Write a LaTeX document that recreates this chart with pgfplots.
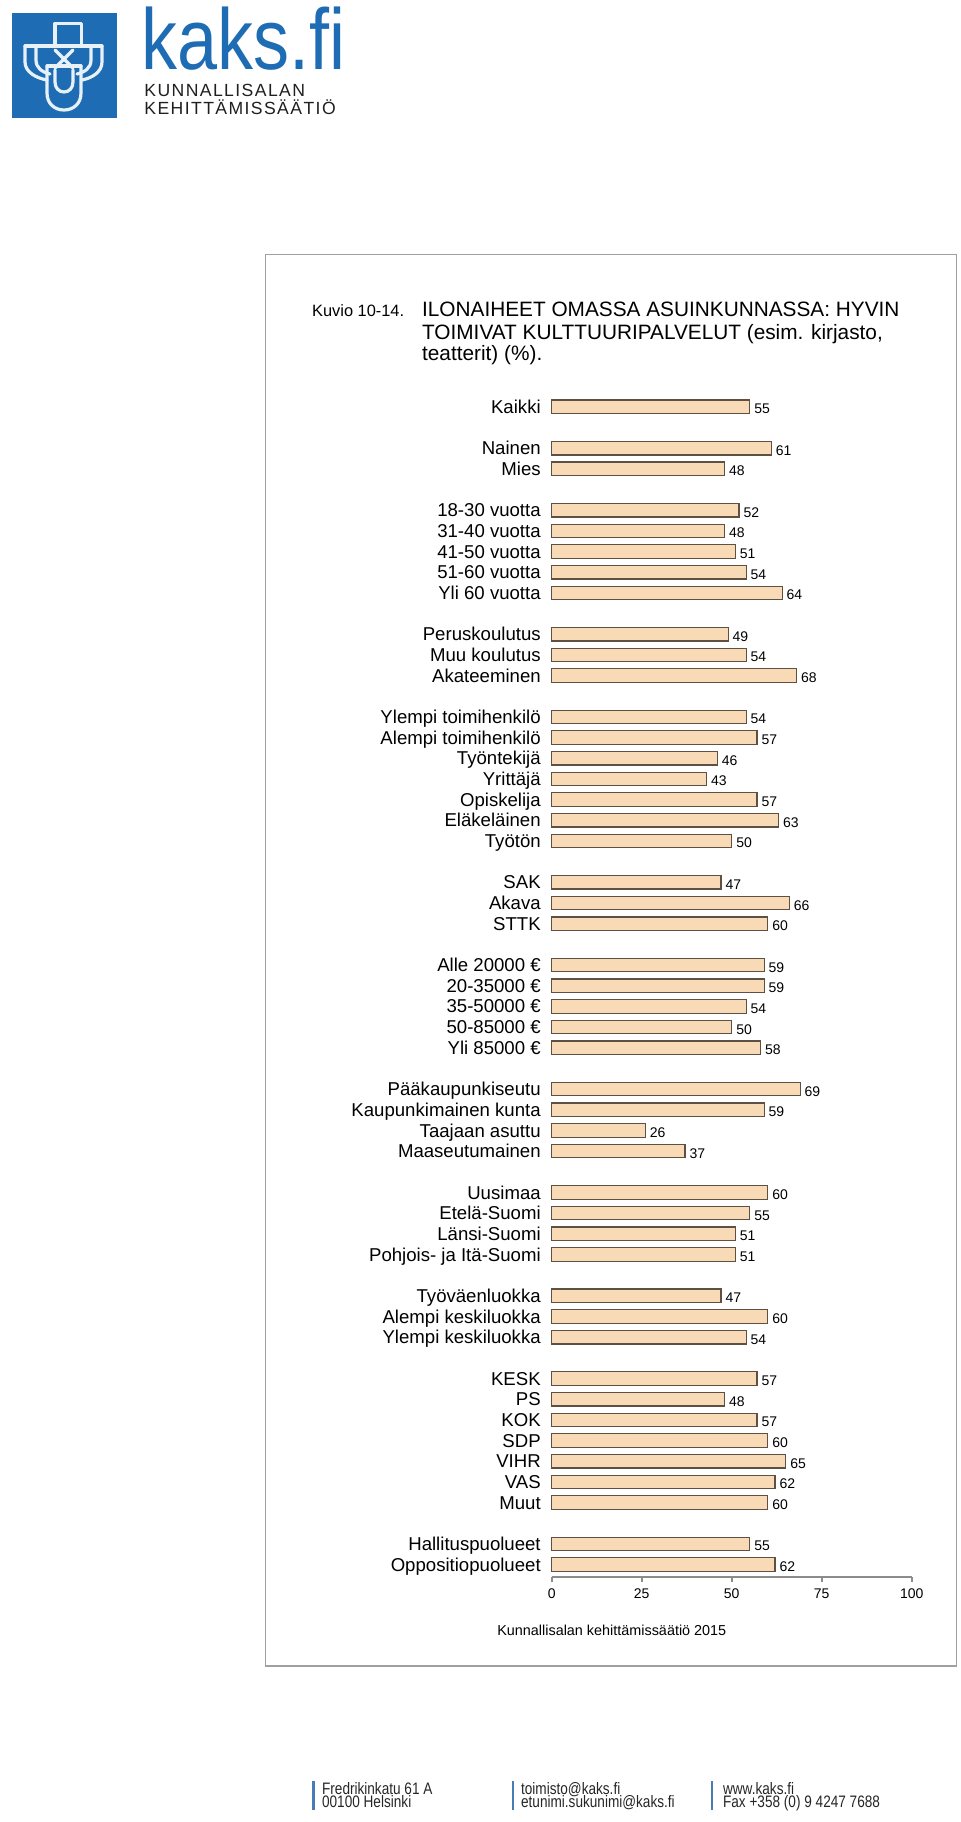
\documentclass[border=0pt]{standalone}
\usepackage{fontspec}
\setmainfont{Liberation Sans}
\usepackage{pgfplots}
\pgfplotsset{compat=1.18}
\usepackage{pgfplotstable}
\definecolor{barfill}{RGB}{249,218,183}
\definecolor{barline}{RGB}{95,80,68}
\definecolor{kaksblue}{RGB}{30,108,180}
\definecolor{footblue}{RGB}{70,125,180}
\definecolor{framegray}{RGB}{160,160,160}
\newfontfamily\logofont[LetterSpace=8]{Liberation Sans}

\pgfplotstableread{
pos val
0 55
2 61
3 48
5 52
6 48
7 51
8 54
9 64
11 49
12 54
13 68
15 54
16 57
17 46
18 43
19 57
20 63
21 50
23 47
24 66
25 60
27 59
28 59
29 54
30 50
31 58
33 69
34 59
35 26
36 37
38 60
39 55
40 51
41 51
43 47
44 60
45 54
47 57
48 48
49 57
50 60
51 65
52 62
53 60
55 55
56 62
}\datatable

\begin{document}
\begin{tikzpicture}
\useasboundingbox (0,0) rectangle (480pt,-911pt);
\begin{scope}[x=0.5pt,y=-0.5pt]
  % logo
  \fill[kaksblue] (11.7,12.7) rectangle (116.7,118.3);
  \begin{scope}[draw=white!90!kaksblue, line width=1.6pt, line join=round, line cap=round]
    \draw (55,46) -- (55,23.5) -- (81.7,23.5) -- (81.7,46);
    \draw (25,46) -- (102,46);
    \draw (25,46) -- (25,62) .. controls (25,72) and (36,78) .. (47,80);
    \draw (102,46) -- (102,62) .. controls (102,72) and (92,78) .. (82,80);
    \draw (36,46) -- (36,60) .. controls (36,68) and (42,72) .. (50,74);
    \draw (91,46) -- (91,60) .. controls (91,68) and (85,72) .. (77,74);
    \draw (47,66) -- (47,93) .. controls (47,104) and (55,110) .. (64,110) .. controls (73,110) and (81,104) .. (81,93) -- (81,66);
    \draw (55,70) -- (55,82) .. controls (55,88) and (59,92) .. (64,92) .. controls (69,92) and (73,88) .. (73,82) -- (73,70);
    \draw (55,50) -- (73,68);
    \draw (73,50) -- (55,68);
    \draw (47,66) -- (81,66);
  \end{scope}
  \node[anchor=base west, inner sep=0pt, text=kaksblue, font=\fontsize{36}{36}\selectfont] at (141,69) {\scalebox{1}[1.2]{kaks.fi}};
  \node[anchor=base west, inner sep=0pt, text=black!88, font=\logofont\fontsize{8.8}{9}\selectfont] at (144,96) {KUNNALLISALAN};
  \node[anchor=base west, inner sep=0pt, text=black!88, font=\logofont\fontsize{8.8}{9}\selectfont] at (144,114) {KEHITTÄMISSÄÄTIÖ};
  % frame
  \draw[framegray, line width=0.7pt] (265.3,254.7) rectangle (956.7,1666);
  % title
  \node[anchor=base west, inner sep=0pt, font=\fontsize{8.2}{9}\selectfont] at (311.7,316) {Kuvio 10-14.};
  \node[anchor=base west, inner sep=0pt, font=\fontsize{10.4}{11}\selectfont] at (421.7,316) {ILONAIHEET OMASSA ASUINKUNNASSA: HYVIN};
  \node[anchor=base west, inner sep=0pt, font=\fontsize{10.4}{11}\selectfont] at (421.7,339.3) {TOIMIVAT KULTTUURIPALVELUT (esim. kirjasto,};
  \node[anchor=base west, inner sep=0pt, font=\fontsize{10.4}{11}\selectfont] at (421.7,360.7) {teatterit) (\%).};
  % source
  \node[anchor=base east, inner sep=0pt, font=\fontsize{7.2}{8}\selectfont] at (726.7,1635) {Kunnallisalan kehittämissäätiö 2015};
  % footer
  \fill[footblue] (312.3,1781) rectangle (314.7,1810);
  \fill[footblue] (511.7,1781) rectangle (514.1,1810);
  \fill[footblue] (710.7,1781) rectangle (713.1,1810);
  \begin{scope}[every node/.style={anchor=base west, inner sep=0pt, text=black!85, font=\fontsize{6.8}{7}\selectfont}]
    \node at (321.7,1794) {\scalebox{1}[1.22]{Fredrikinkatu 61 A}};
    \node at (321.7,1807.7) {\scalebox{1}[1.22]{00100 Helsinki}};
    \node at (520.7,1794) {\scalebox{1}[1.22]{toimisto@kaks.fi}};
    \node at (520.7,1807.7) {\scalebox{1}[1.22]{etunimi.sukunimi@kaks.fi}};
    \node at (722.7,1794) {\scalebox{1}[1.22]{www.kaks.fi}};
    \node at (722.7,1807.7) {\scalebox{1}[1.22]{Fax +358 (0) 9 4247 7688}};
  \end{scope}
\end{scope}

\begin{axis}[
  at={(275.85pt,-788.5pt)}, anchor=south west,
  scale only axis, width=180pt, height=591.3pt,
  xmin=0, xmax=100, ymin=-56.6, ymax=0.6,
  xbar, bar width=6.75pt,
  axis x line*=bottom, axis y line*=left,
  y axis line style={draw=none},
  x axis line style={draw=black!45, line width=0.8pt},
  xtick={0,25,50,75,100},
  xtick align=outside,
  major tick length=2.5pt,
  x tick style={draw=black!45, line width=0.8pt},
  ytick style={draw=none},
  ytick={0,-2,-3,-5,-6,-7,-8,-9,-11,-12,-13,-15,-16,-17,-18,-19,-20,-21,-23,-24,-25,-27,-28,-29,-30,-31,-33,-34,-35,-36,-38,-39,-40,-41,-43,-44,-45,-47,-48,-49,-50,-51,-52,-53,-55,-56},
  yticklabels={{Kaikki},{Nainen},{Mies},{18-30 vuotta},{31-40 vuotta},{41-50 vuotta},{51-60 vuotta},{Yli 60 vuotta},{Peruskoulutus},{Muu koulutus},{Akateeminen},{Ylempi toimihenkilö},{Alempi toimihenkilö},{Työntekijä},{Yrittäjä},{Opiskelija},{Eläkeläinen},{Työtön},{SAK},{Akava},{STTK},{Alle 20000 €},{20-35000 €},{35-50000 €},{50-85000 €},{Yli 85000 €},{Pääkaupunkiseutu},{Kaupunkimainen kunta},{Taajaan asuttu},{Maaseutumainen},{Uusimaa},{Etelä-Suomi},{Länsi-Suomi},{Pohjois- ja Itä-Suomi},{Työväenluokka},{Alempi keskiluokka},{Ylempi keskiluokka},{KESK},{PS},{KOK},{SDP},{VIHR},{VAS},{Muut},{Hallituspuolueet},{Oppositiopuolueet}},
  yticklabel style={font=\fontsize{9.3}{10}\selectfont, anchor=base east, inner sep=0pt, xshift=-2.8pt, yshift=-3.3pt},
  xticklabel style={font=\fontsize{7}{8}\selectfont, anchor=base, inner sep=0pt, yshift=-8pt},
  /pgf/number format/assume math mode=true,
  nodes near coords,
  every node near coord/.append style={font=\fontsize{7}{8}\selectfont, anchor=base west, inner sep=0pt, xshift=2pt, yshift=-3.5pt},
  clip=false,
  enlargelimits=false,
]
\addplot[draw=barline, fill=barfill, line width=0.6pt] table[x=val, y expr=-\thisrow{pos}] {\datatable};
\end{axis}
\end{tikzpicture}
\end{document}
